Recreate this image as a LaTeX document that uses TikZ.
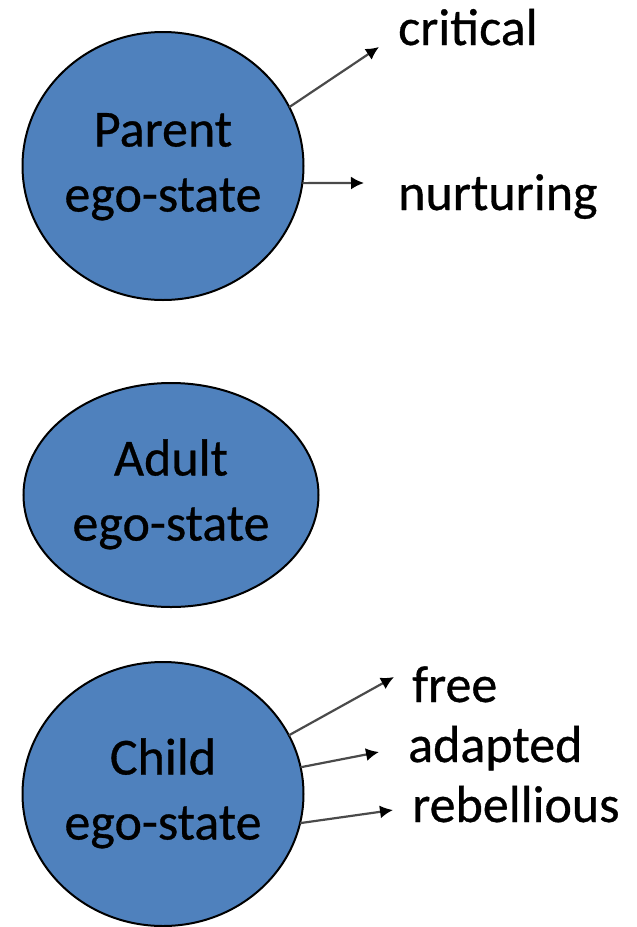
\documentclass[tikz,border=0pt]{standalone}
\usepackage{fontspec}
\setmainfont{Carlito}
\newfontfamily\heavyfont{Carlito}[FakeBold=0.6]
\usetikzlibrary{shapes.geometric,arrows.meta}

\definecolor{egoblue}{HTML}{4F81BD}
\definecolor{arrowgray}{HTML}{4A4A4A}

\tikzset{
  egostate/.style={ellipse, draw=black, line width=2pt, fill=egoblue,
    inner sep=0pt, outer sep=0pt,
    font=\heavyfont\fontsize{52}{65}\selectfont},
  trait/.style={anchor=base west, inner sep=0pt,
    font=\heavyfont\fontsize{52}{64}\selectfont},
  pointer/.style={draw=arrowgray, line width=2.2pt,
    -{Latex[length=13pt,width=13pt,black]}},
}
% two centred lines, set a little below the middle of the ellipse
\newcommand\egolabel[1]{\raisebox{-4pt}{\begin{tabular}{@{}c@{}}#1\\ego-state\end{tabular}}}

\begin{document}
\begin{tikzpicture}[x=1pt,y=-1pt]
  \useasboundingbox (0,0) rectangle (637,927);

  % the three ego-states
  \node[egostate, minimum width=281pt, minimum height=268pt] (parent) at (163,166)
    {\egolabel{Parent}};
  \node[egostate, minimum width=295pt, minimum height=224pt] (adult) at (171,495)
    {\egolabel{Adult}};
  \node[egostate, minimum width=281pt, minimum height=264pt] (child) at (163,794)
    {\egolabel{Child}};

  % sub-states of the parent
  \node[trait] (critical) at (398,45) {critical};
  \node[trait] (nurturing) at (398,210) {nurturing};
  \coordinate (critEnd) at (379,47);
  \coordinate (nurtEnd) at (364,183);
  \draw[pointer] (parent.25) -- (critEnd);
  \draw[pointer] (parent.-7) -- (nurtEnd);

  % sub-states of the child
  \node[trait] (free) at (412,702) {free};
  \node[trait] (adapted) at (408,762) {adapted};
  \node[trait] (rebellious) at (412,822) {rebellious};
  \coordinate (freeEnd) at (394,677);
  \coordinate (adaptEnd) at (379,752);
  \coordinate (rebelEnd) at (393,810);
  \draw[pointer] (child.25) -- (freeEnd);
  \draw[pointer] (child.11) -- (adaptEnd);
  \draw[pointer] (child.-12) -- (rebelEnd);
\end{tikzpicture}
\end{document}
